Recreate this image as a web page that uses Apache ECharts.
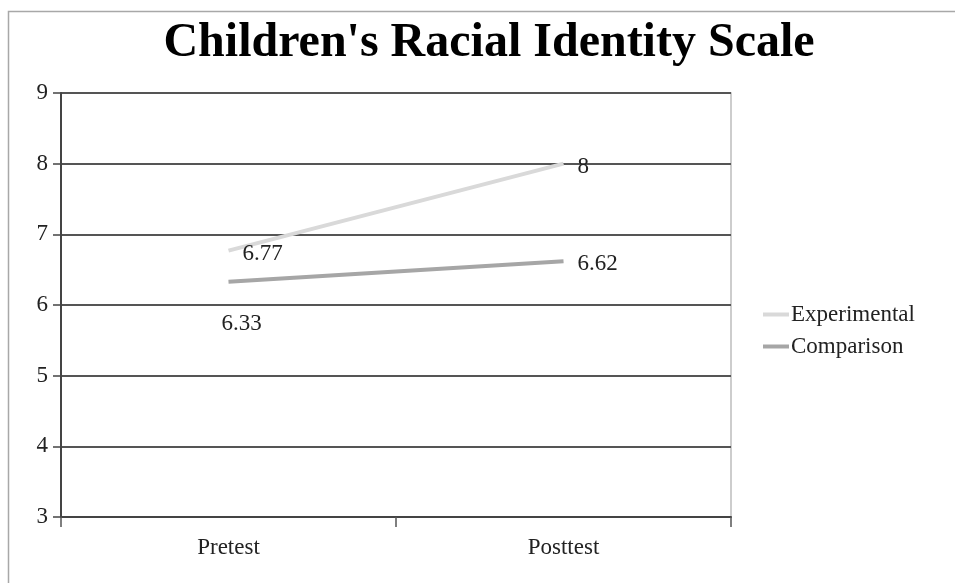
<!DOCTYPE html>
<html>
<head>
<meta charset="utf-8">
<script src="https://cdn.jsdelivr.net/npm/echarts@6/dist/echarts.min.js"></script>
<style>
  html, body { margin: 0; padding: 0; background: #fff; }
  #chart { width: 955px; height: 583px; }
</style>
</head>
<body>
<div id="chart"></div>
<script>
// Mean scale scores at each test point
const categories = ['Pretest', 'Posttest'];
const experimental = [6.77, 8];
const comparison = [6.33, 6.62];
const yTicks = [3, 4, 5, 6, 7, 8, 9];

const serif = '"Liberation Serif", "Times New Roman", serif';
const chart = echarts.init(document.getElementById('chart'), null, { renderer: 'canvas' });

const labelBase = {
  show: true,
  position: 'right',
  distance: 14,
  offset: [0, 3],
  fontFamily: serif,
  fontSize: 23,
  color: '#222'
};

chart.setOption({
  backgroundColor: '#fff',
  animation: false,
  title: {
    text: "Children's Racial Identity Scale",
    left: 484,
    top: 15,
    textAlign: 'center',
    textStyle: { fontFamily: serif, fontSize: 48, fontWeight: 'bold', color: '#000' }
  },
  graphic: [{
    type: 'rect',
    shape: { x: 8.5, y: 11.5, width: 1000, height: 700 },
    style: { fill: 'none', stroke: '#a8a8a8', lineWidth: 1.5 },
    silent: true
  }],
  legend: {
    orient: 'vertical',
    left: 758,
    top: 298,
    itemWidth: 26,
    itemHeight: 4,
    itemGap: 9,
    icon: 'rect',
    textStyle: { fontFamily: serif, fontSize: 23, color: '#222', padding: [0, 0, 0, -3] },
    data: ['Experimental', 'Comparison']
  },
  grid: {
    left: 61, right: 224, top: 93, bottom: 66,
    show: true, borderColor: '#bdbdbd', borderWidth: 1.5, containLabel: false
  },
  xAxis: {
    type: 'category',
    data: categories,
    boundaryGap: true,
    axisLine: { lineStyle: { color: '#444', width: 2 } },
    axisTick: { show: true, length: 10, lineStyle: { color: '#555', width: 1.5 } },
    axisLabel: { fontFamily: serif, fontSize: 23, color: '#222', margin: 19 }
  },
  yAxis: {
    type: 'value',
    min: yTicks[0],
    max: yTicks[yTicks.length - 1],
    interval: 1,
    axisLine: { show: true, lineStyle: { color: '#444', width: 2 } },
    axisTick: { show: true, length: 8, lineStyle: { color: '#444', width: 1.5 } },
    axisLabel: { fontFamily: serif, fontSize: 23, color: '#222', margin: 13 },
    splitLine: { show: true, lineStyle: { color: '#555', width: 2 } }
  },
  series: [
    {
      name: 'Experimental',
      type: 'line',
      data: experimental,
      symbol: 'circle',
      symbolSize: 0,
      showSymbol: true,
      lineStyle: { color: '#d9d9d9', width: 4 },
      itemStyle: { color: '#d9d9d9' },
      label: labelBase,
      z: 3
    },
    {
      name: 'Comparison',
      type: 'line',
      data: comparison.map((v, i) => i === 0
        ? { value: v, label: { position: 'bottom', distance: 28, offset: [13, 3] } }
        : v),
      symbol: 'circle',
      symbolSize: 0,
      showSymbol: true,
      lineStyle: { color: '#a6a6a6', width: 4 },
      itemStyle: { color: '#a6a6a6' },
      label: labelBase,
      z: 3
    }
  ]
});
</script>
</body>
</html>
